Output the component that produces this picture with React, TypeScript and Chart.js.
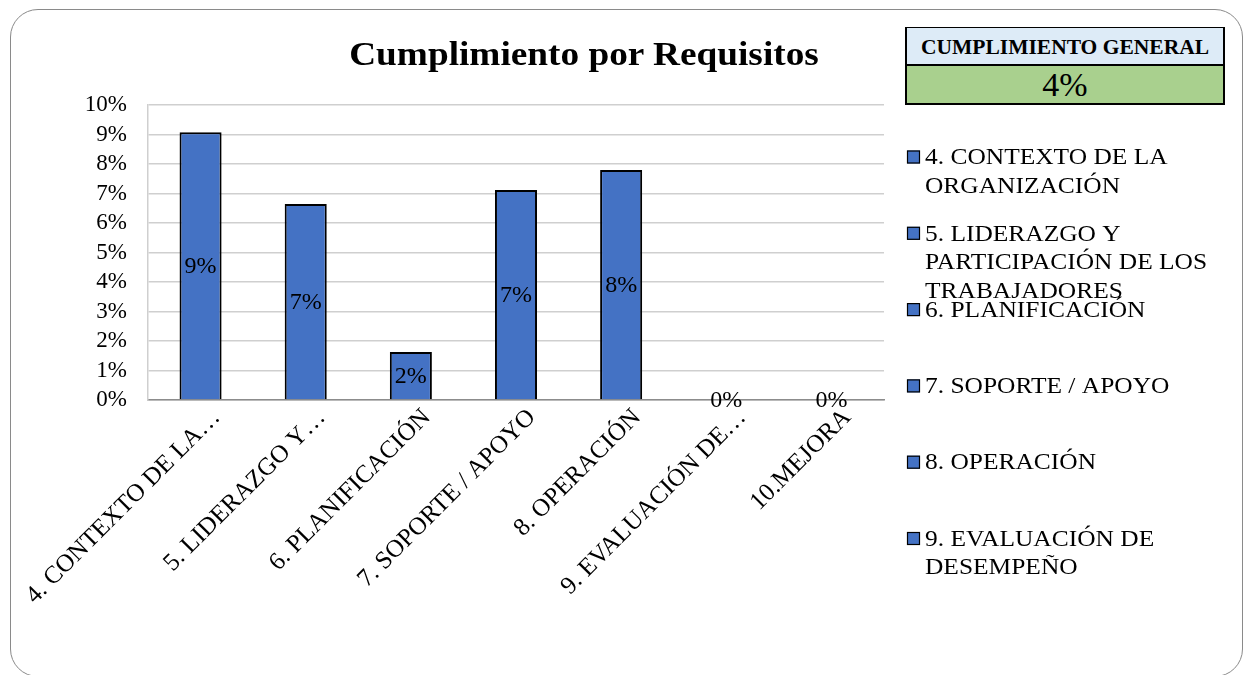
import React, { useEffect, useRef } from "react";
import { Chart, registerables } from "chart.js";

Chart.register(...registerables);

const categories = [
  "4. CONTEXTO DE LA ORGANIZACIÓN",
  "5. LIDERAZGO Y PARTICIPACIÓN DE LOS TRABAJADORES",
  "6. PLANIFICACIÓN",
  "7. SOPORTE / APOYO",
  "8. OPERACIÓN",
  "9. EVALUACIÓN DE DESEMPEÑO",
  "10.MEJORA",
];
const tickLabels = [
  "4. CONTEXTO DE LA…",
  "5. LIDERAZGO Y…",
  "6. PLANIFICACIÓN",
  "7. SOPORTE / APOYO",
  "8. OPERACIÓN",
  "9. EVALUACIÓN DE…",
  "10.MEJORA",
];
const values = [0.0908, 0.0664, 0.0163, 0.0712, 0.078, 0, 0];
const legendLines = [
  ["4. CONTEXTO DE LA", "ORGANIZACIÓN"],
  ["5. LIDERAZGO Y", "PARTICIPACIÓN DE LOS", "TRABAJADORES"],
  ["6. PLANIFICACIÓN"],
  ["7. SOPORTE / APOYO"],
  ["8. OPERACIÓN"],
  ["9. EVALUACIÓN DE", "DESEMPEÑO"],
];
const yTicks = [0, 0.01, 0.02, 0.03, 0.04, 0.05, 0.06, 0.07, 0.08, 0.09, 0.1];
const title = "Cumplimiento por Requisitos";
const generalLabel = "CUMPLIMIENTO GENERAL";
const generalValue = "4%";

const SERIF = "'Liberation Serif', 'Times New Roman', serif";
const BAR = "#4472C4";

const pct = (v: number) => Math.round(v * 100) + "%";

const dataLabelPlugin = {
  id: "dataLabels",
  afterDatasetsDraw(chart: any) {
    const ctx = chart.ctx;
    const meta = chart.getDatasetMeta(0);
    ctx.save();
    ctx.font = `24px ${SERIF}`;
    ctx.fillStyle = "#000";
    ctx.textAlign = "center";
    ctx.textBaseline = "middle";
    meta.data.forEach((bar: any, i: number) => {
      const p = bar.getProps(["x", "y", "base"], true);
      const cy = (p.y + p.base) / 2;
      ctx.fillText(pct(values[i]), p.x, cy + 1);
    });
    ctx.restore();
  },
};

const legendPlugin = {
  id: "customLegend",
  afterDraw(chart: any) {
    const ctx = chart.ctx;
    ctx.save();
    ctx.textBaseline = "middle";
    ctx.textAlign = "left";
    const x0 = 907;
    const y0 = 157;
    const step = 76.3;
    const lh = 28.5;
    const sx = 1.06;
    legendLines.forEach((lines, i) => {
      const y = y0 + i * step;
      ctx.fillStyle = BAR;
      ctx.fillRect(x0, y - 6.5, 13, 13);
      ctx.strokeStyle = "#000";
      ctx.lineWidth = 1.2;
      ctx.strokeRect(x0 + 0.5, y - 6, 12, 12);
      ctx.fillStyle = "#000";
      lines.forEach((ln, j) => {
        ctx.save();
        ctx.translate(925, y + j * lh + 1);
        ctx.scale(sx, 1);
        ctx.font = `24px ${SERIF}`;
        ctx.fillText(ln, 0, 0);
        ctx.restore();
      });
    });
    ctx.restore();
  },
};

export default function App() {
  const ref = useRef<HTMLCanvasElement>(null);
  useEffect(() => {
    if (!ref.current) return;
    const chart = new Chart(ref.current, {
      type: "bar",
      data: {
        labels: tickLabels,
        datasets: [
          {
            label: "Cumplimiento",
            data: values,
            backgroundColor: BAR,
            borderColor: "#000",
            borderWidth: 2,
            categoryPercentage: 1,
            barPercentage: 0.4,
          },
        ],
      },
      options: {
        animation: false,
        responsive: false,
        maintainAspectRatio: false,
        layout: { padding: { left: 0, right: 363, top: 105, bottom: 0 } },
        plugins: {
          legend: { display: false },
          title: { display: false },
          tooltip: { enabled: false },
        },
        scales: {
          x: {
            grid: { display: false, drawTicks: false },
            border: { display: true, color: "#8c8c8c", width: 1.5 },
            ticks: {
              autoSkip: false,
              maxRotation: 45,
              minRotation: 45,
              padding: 3,
              labelOffset: 16,
              color: "#000",
              font: { family: SERIF, size: 25 },
            },
            afterFit(scale: any) {
              scale.height = 275;
            },
          },
          y: {
            min: 0,
            max: 0.1,
            afterBuildTicks(scale: any) {
              scale.ticks = yTicks.map((v) => ({ value: v }));
            },
            grid: { color: "#cfcfcf", lineWidth: 1.5, drawTicks: false },
            border: { display: true, color: "#cfcfcf", width: 1.5 },
            ticks: {
              autoSkip: false,
              padding: 21,
              color: "#000",
              font: { family: SERIF, size: 23 },
              callback: (v: any) => pct(Number(v)),
            },
            afterFit(scale: any) {
              scale.width = 148;
            },
          },
        },
      },
      plugins: [dataLabelPlugin, legendPlugin],
    });
    return () => chart.destroy();
  }, []);

  return (
    <div style={{ position: "absolute", left: 0, top: 0, width: 1247, height: 675, overflow: "hidden", background: "#fff" }}>
      <div
        style={{
          position: "absolute",
          left: 10,
          top: 9,
          width: 1233,
          height: 668,
          border: "1px solid #8a8a8a",
          borderRadius: 28,
          boxSizing: "border-box",
        }}
      />
      <canvas ref={ref} width={1247} height={675} style={{ position: "absolute", left: 0, top: 0 }} />
      <div
        style={{
          position: "absolute",
          left: 300,
          width: 568,
          top: 32,
          textAlign: "center",
          fontFamily: SERIF,
          fontWeight: "bold",
          fontSize: 33,
          lineHeight: "44px",
          color: "#000",
          transform: "scaleX(1.13)",
          transformOrigin: "50% 50%",
        }}
      >
        {title}
      </div>
      <div
        style={{
          position: "absolute",
          left: 905,
          top: 27,
          width: 320,
          fontFamily: SERIF,
          color: "#000",
          boxSizing: "border-box",
        }}
      >
        <div
          style={{
            height: 39,
            background: "#DDEBF7",
            borderTop: "1px solid #000",
            borderLeft: "2px solid #000",
            borderRight: "2px solid #000",
            borderBottom: "2px solid #000",
            textAlign: "center",
            fontWeight: "bold",
            fontSize: 21.5,
            lineHeight: "38px",
            boxSizing: "border-box",
          }}
        >
          {generalLabel}
        </div>
        <div
          style={{
            height: 39,
            background: "#A9D08E",
            borderLeft: "2px solid #000",
            borderRight: "2px solid #000",
            borderBottom: "2px solid #000",
            textAlign: "center",
            fontSize: 34,
            lineHeight: "37px",
            boxSizing: "border-box",
          }}
        >
          {generalValue}
        </div>
      </div>
    </div>
  );
}
